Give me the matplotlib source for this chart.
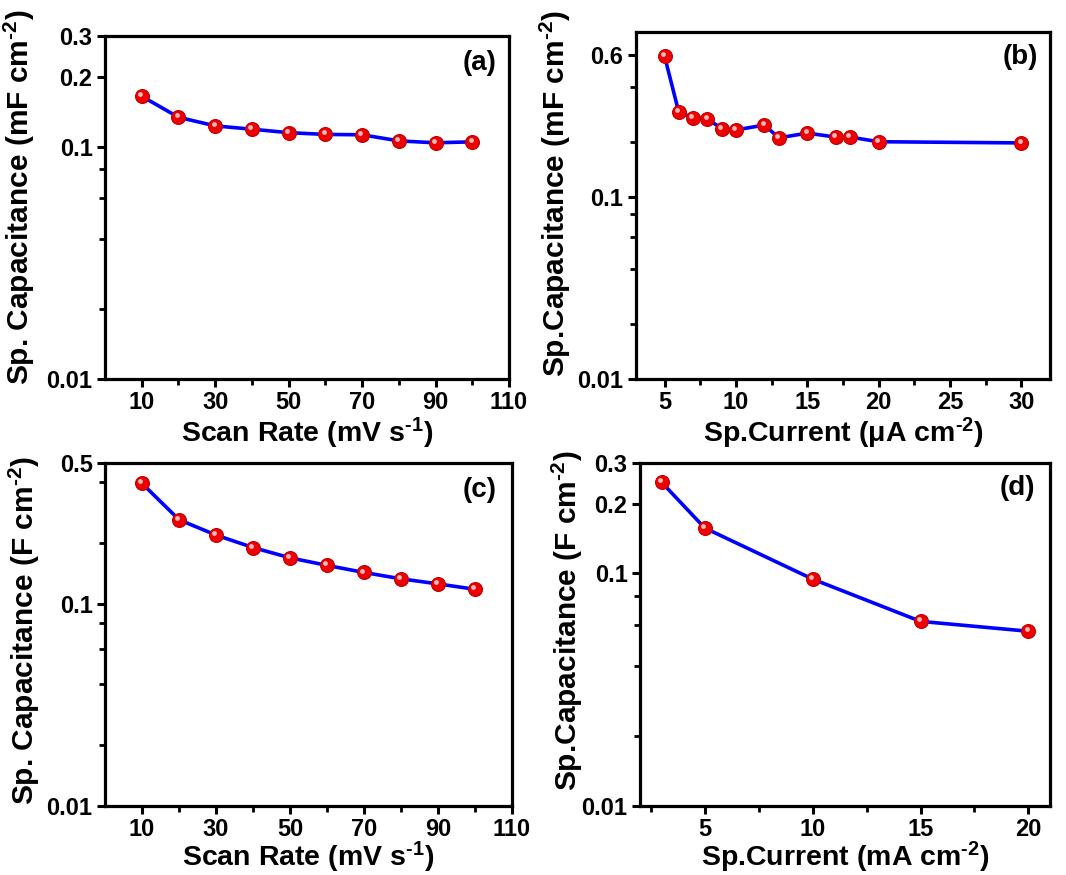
import matplotlib
matplotlib.use('Agg')
import matplotlib.pyplot as plt
import matplotlib.transforms as mtransforms
from matplotlib.ticker import FixedLocator, NullFormatter, FixedFormatter

plt.rcParams['font.family'] = ['Liberation Sans', 'DejaVu Sans']
plt.rcParams['font.weight'] = 'bold'
plt.rcParams['mathtext.fontset'] = 'custom'
plt.rcParams['mathtext.rm'] = 'Liberation Sans:bold'
plt.rcParams['mathtext.it'] = 'Liberation Sans:bold'
plt.rcParams['mathtext.bf'] = 'Liberation Sans:bold'
plt.rcParams['mathtext.default'] = 'rm'

# data
a_rate = [10, 20, 30, 40, 50, 60, 70, 80, 90, 100]
a_cap = [0.165, 0.134, 0.123, 0.119, 0.115, 0.113, 0.1126, 0.106, 0.104, 0.105]

b_current = [5, 6, 7, 8, 9, 10, 12, 13, 15, 17, 18, 20, 30]
b_cap = [0.59, 0.29, 0.271, 0.267, 0.236, 0.232, 0.247, 0.210, 0.223, 0.212, 0.212, 0.200, 0.197]

c_rate = [10, 20, 30, 40, 50, 60, 70, 80, 90, 100]
c_cap = [0.395, 0.261, 0.219, 0.190, 0.169, 0.155, 0.143, 0.133, 0.1255, 0.118]

d_current = [3, 5, 10, 15, 20]
d_cap = [0.247, 0.157, 0.0946, 0.0622, 0.0564]

# y tick labels for each panel
a_yticks = [0.01, 0.1, 0.2, 0.3]
b_yticks = [0.01, 0.1, 0.6]
c_yticks = [0.01, 0.1, 0.5]
d_yticks = [0.01, 0.1, 0.2, 0.3]

fig = plt.figure(figsize=(10.66, 8.75), dpi=100)

ax_a = fig.add_axes([0.0985, 0.5669, 0.379, 0.392])
ax_b = fig.add_axes([0.5966, 0.5669, 0.3884, 0.3966])
ax_c = fig.add_axes([0.0985, 0.0792, 0.3818, 0.392])
ax_d = fig.add_axes([0.6004, 0.0792, 0.3846, 0.392])


def draw_panel(ax, x, y, yticks, ylim, xlim, xmajor, xminor, xlabel, ylabel, tag,
               ylab_xy, tag_xy, xpad=1):
    ax.plot(x, y, color='#0000ff', lw=2.6, zorder=2)
    ax.plot(x, y, ls='none', marker='o', ms=10, mfc='#ee0000', mec='#c00000',
            mew=0.8, zorder=3)
    # little highlight on each sphere
    shift = mtransforms.offset_copy(ax.transData, fig=fig, x=-1.2, y=1.4, units='points')
    ax.plot(x, y, ls='none', marker='o', ms=3.5, mfc='#ffb8b8', mec='none',
            transform=shift, zorder=4)

    ax.set_yscale('log')
    ax.set_ylim(*ylim)
    ax.set_xlim(*xlim)
    ax.yaxis.set_major_locator(FixedLocator(yticks))
    ax.yaxis.set_major_formatter(FixedFormatter([f'{v:g}' for v in yticks]))
    minors = [v for v in [0.02, 0.04, 0.06, 0.08, 0.2, 0.4] if v not in yticks]
    ax.yaxis.set_minor_locator(FixedLocator(minors))
    ax.yaxis.set_minor_formatter(NullFormatter())
    ax.xaxis.set_major_locator(FixedLocator(xmajor))
    ax.xaxis.set_minor_locator(FixedLocator(xminor))

    for s in ax.spines.values():
        s.set_linewidth(2.3)
    ax.tick_params(which='major', direction='out', length=6, width=2.2,
                   labelsize=17, pad=3)
    ax.tick_params(which='minor', direction='out', length=4, width=2.0)
    for lab in ax.get_xticklabels() + ax.get_yticklabels():
        lab.set_fontweight('bold')

    ax.set_xlabel(xlabel, fontsize=20.5, fontweight='bold', labelpad=xpad)
    ax.set_ylabel(ylabel, fontsize=21.5, fontweight='bold')
    ax.yaxis.set_label_coords(*ylab_xy)
    ax.text(tag_xy[0], tag_xy[1], tag, transform=ax.transAxes, ha='right',
            va='center', fontsize=20, fontweight='bold')


draw_panel(ax_a, a_rate, a_cap, a_yticks, (0.01, 0.3), (0, 110),
           [10, 30, 50, 70, 90, 110], [20, 40, 60, 80, 100],
           r'Scan Rate (mV s$^{\text{-}1}$)', r'Sp. Capacitance (mF cm$^{\text{-}2}$)', '(a)',
           (-0.168, 0.53), (0.97, 0.921))

draw_panel(ax_b, b_current, b_cap, b_yticks, (0.01, 0.8), (3, 32),
           [5, 10, 15, 20, 25, 30], [7.5, 12.5, 17.5, 22.5, 27.5],
           r'Sp.Current (μA cm$^{\text{-}2}$)', r'Sp.Capacitance (mF cm$^{\text{-}2}$)', '(b)',
           (-0.152, 0.535), (0.971, 0.928))

draw_panel(ax_c, c_rate, c_cap, c_yticks, (0.01, 0.5), (0, 110),
           [10, 30, 50, 70, 90, 110], [20, 40, 60, 80, 100],
           r'Scan Rate (mV s$^{\text{-}1}$)', r'Sp. Capacitance (F cm$^{\text{-}2}$)', '(c)',
           (-0.155, 0.51), (0.963, 0.92), xpad=-1)

draw_panel(ax_d, d_current, d_cap, d_yticks, (0.01, 0.3), (2, 21),
           [5, 10, 15, 20], [2.5, 7.5, 12.5, 17.5],
           r'Sp.Current (mA cm$^{\text{-}2}$)', r'Sp.Capacitance (F cm$^{\text{-}2}$)', '(d)',
           (-0.134, 0.54), (0.963, 0.925), xpad=-1)

fig.savefig('out.png', dpi=100)
